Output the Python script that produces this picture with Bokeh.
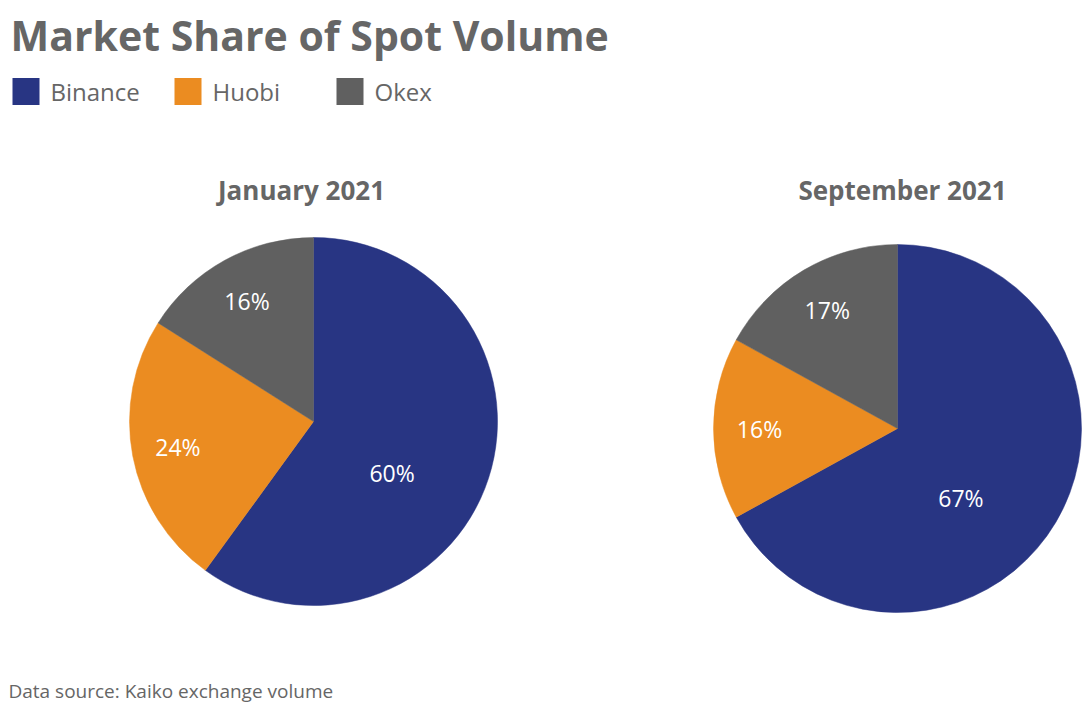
import math
from bokeh.plotting import figure
from bokeh.models import Range1d, ColumnDataSource
from bokeh.core.properties import value
from bokeh.embed import file_html
from bokeh.resources import INLINE

# ---- data ----
title_text = "Market Share of Spot Volume"
source_text = "Data source: Kaiko exchange volume"
exchanges = ["Binance", "Huobi", "Okex"]
colors = ["#283583", "#EB8C21", "#606060"]
periods = ["January 2021", "September 2021"]
jan_2021 = [60, 24, 16]
sep_2021 = [67, 16, 17]
shares_by_period = [jan_2021, sep_2021]

# ---- layout (page pixel coordinates; y measured from top) ----
W, H = 1092, 706
FONT = "Open Sans"
GRAY = "#666666"
pie_centers = [(313, 421), (897, 428)]
title_centers = [301, 902]
pie_radius = 184

def Y(screen_y):
    return H - screen_y

p = figure(width=W, height=H, x_range=Range1d(0, W), y_range=Range1d(0, H),
           output_backend="svg", toolbar_location=None, min_border=0)
p.axis.visible = False
p.grid.visible = False
p.outline_line_color = None
p.background_fill_color = "white"
p.border_fill_color = "white"

# title
p.text(x=[10], y=[Y(34)], text=[title_text], text_font=value(FONT), text_font_style="bold",
       text_font_size="41px", text_color=GRAY, text_baseline="middle", text_align="left")

# legend
leg_x0, leg_step, leg_y, sq = 12, 162, 91, 27
for i, (name, col) in enumerate(zip(exchanges, colors)):
    sx = leg_x0 + i * leg_step
    p.rect(x=[sx + sq / 2], y=[Y(leg_y)], width=sq, height=sq, fill_color=col, line_color=None)
    p.text(x=[sx + sq + 11], y=[Y(leg_y)], text=[name], text_font=value(FONT),
           text_font_size="24px", text_color=GRAY, text_baseline="middle", text_align="left")

# pies
for (cx, cy), tx, period, shares in zip(pie_centers, title_centers, periods, shares_by_period):
    total = float(sum(shares))
    starts, ends, lx, ly, labels = [], [], [], [], []
    cum = 0.0
    for s in shares:
        f0 = cum / total
        f1 = (cum + s) / total
        cum += s
        starts.append(math.pi / 2 - 2 * math.pi * f0)
        ends.append(math.pi / 2 - 2 * math.pi * f1)
        if s / total >= 0.5:
            fm = f0 + 0.57 * (f1 - f0)
            rr = 0.51 * pie_radius
        else:
            fm = (f0 + f1) / 2
            rr = 0.75 * pie_radius
        ang = math.pi / 2 - 2 * math.pi * fm
        lx.append(cx + rr * math.cos(ang))
        ly.append(Y(cy) + rr * math.sin(ang))
        labels.append(f"{s}%")
    src = ColumnDataSource(dict(start=starts, end=ends, color=colors,
                                x=[cx] * 3, y=[Y(cy)] * 3))
    p.wedge(x="x", y="y", radius=pie_radius, start_angle="start", end_angle="end",
            direction="clock", fill_color="color", line_color="color", line_width=0.5,
            source=src)
    p.text(x=lx, y=ly, text=labels, text_font=value(FONT), text_font_size="23px",
           text_color="white", text_baseline="middle", text_align="center")
    p.text(x=[tx], y=[Y(189)], text=[period], text_font=value(FONT), text_font_style="bold",
           text_font_size="26px", text_color=GRAY, text_baseline="middle", text_align="center")

# footer
p.text(x=[8], y=[Y(690)], text=[source_text], text_font=value(FONT), text_font_size="19px",
       text_color=GRAY, text_baseline="middle", text_align="left")

open("out.html", "w").write(file_html(p, INLINE))
